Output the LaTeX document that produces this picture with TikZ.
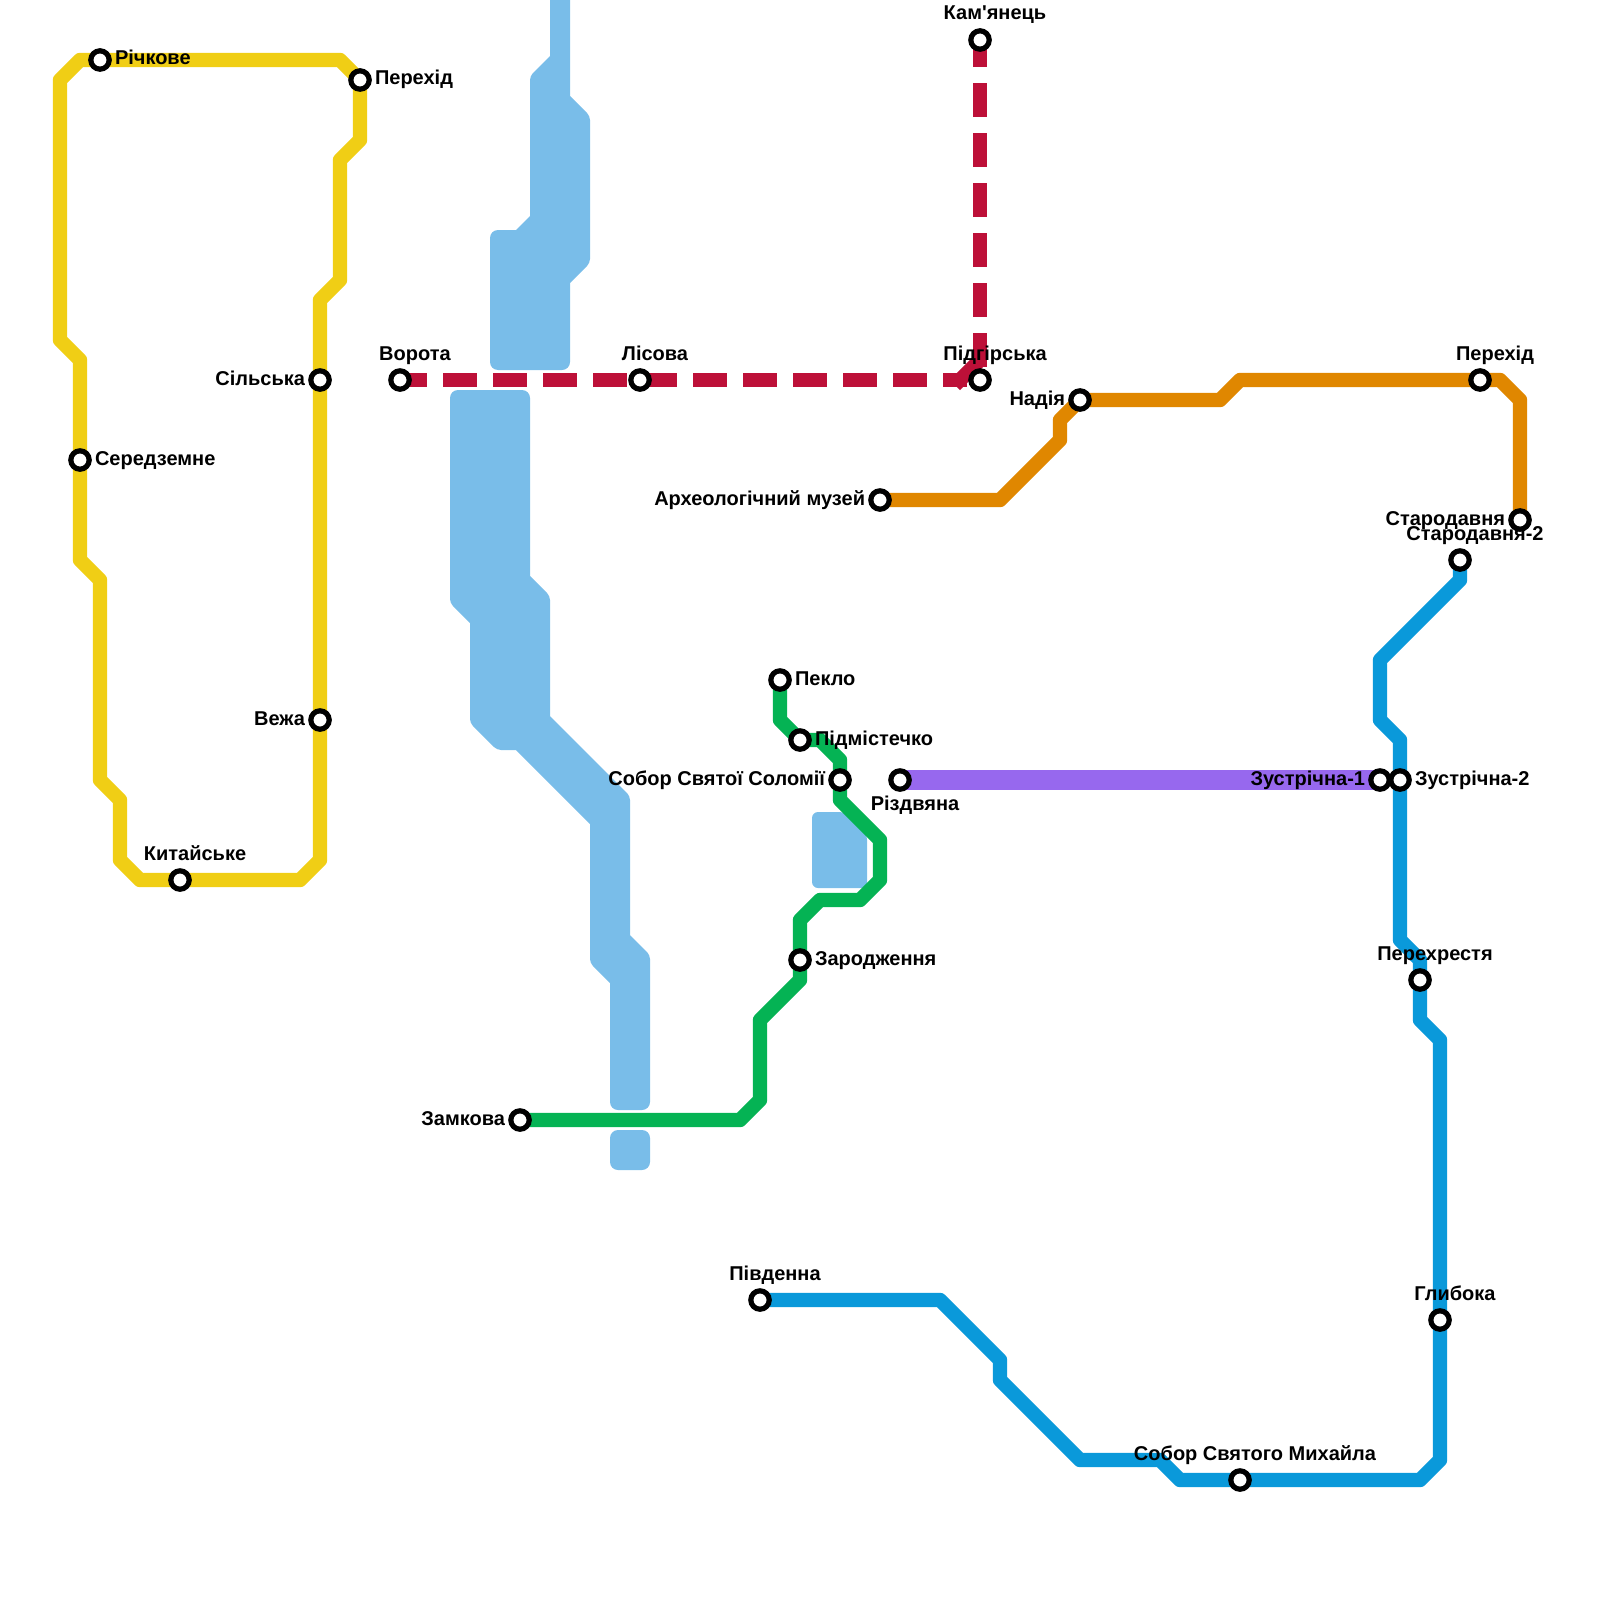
\documentclass[tikz,border=0pt]{standalone}
\usepackage{fontspec}
\newfontfamily\labfont{Liberation Sans}
\usetikzlibrary{positioning,backgrounds}
\definecolor{lineyellow}{HTML}{F0CE15}
\definecolor{linered}{HTML}{BD1038}
\definecolor{linegreen}{HTML}{05B354}
\definecolor{lineorange}{HTML}{E08700}
\definecolor{lineblue}{HTML}{0A99DA}
\definecolor{linepurple}{HTML}{9768EE}
\definecolor{rivercol}{HTML}{79BDE9}
\begin{document}
\begin{tikzpicture}[
  x=0.5pt,y=-0.5pt,
  st/.style={circle,draw=black,fill=white,line width=2.6pt,minimum size=9.2pt,inner sep=0pt,outer sep=0pt},
  lab/.style={font=\labfont\fontsize{10}{11}\selectfont\bfseries,inner sep=0pt,outer sep=0pt,text height=7pt,text depth=0pt},
  labr/.style={lab,right=2.9pt of #1,yshift=1pt},
  labl/.style={lab,left=2.9pt of #1,yshift=1pt},
  laba/.style={lab,above=5.4pt of #1,xshift=7.5pt},
  labb/.style={lab,below=3.4pt of #1,xshift=7.5pt},
  ln/.style={line width=7.2pt,line join=round},
  rd/.style={ln,linered,line cap=rect,dash pattern=on 10pt off 15pt},
  river/.style={fill=rivercol}]
\useasboundingbox (0,0) rectangle (1600,1600);
% yellow line
\node[st] (richkove) at (100,60) {};
\node[st] (perehidw) at (360,80) {};
\node[st] (silska) at (320,380) {};
\node[st] (seredz) at (80,460) {};
\node[st] (vezha) at (320,720) {};
\node[st] (kytay) at (180,880) {};
\node[labr=richkove] (richkovel) {Річкове};
\node[labr=perehidw] (perehidwl) {Перехід};
\node[labl=silska] (silskal) {Сільська};
\node[labr=seredz] (seredzl) {Середземне};
\node[labl=vezha] (vezhal) {Вежа};
\node[laba=kytay] (kytayl) {Китайське};
% red line
\node[st] (vorota) at (400,380) {};
\node[st] (lisova) at (640,380) {};
\node[st] (pidhir) at (980,380) {};
\node[st] (kamyan) at (980,40) {};
\coordinate (redw) at (960,380);
\coordinate (redn) at (980,360);
\node[laba=vorota] (vorotal) {Ворота};
\node[laba=lisova] (lisoval) {Лісова};
\node[laba=pidhir] (pidhirl) {Підгірська};
\node[laba=kamyan] (kamyanl) {Кам'янець};
% green line
\node[st] (peklo) at (780,680) {};
\node[st] (pidmis) at (800,740) {};
\node[st] (solomii) at (840,780) {};
\node[st] (zarodzh) at (800,960) {};
\node[st] (zamkova) at (520,1120) {};
\node[labr=peklo] (peklol) {Пекло};
\node[labr=pidmis] (pidmisl) {Підмістечко};
\node[labl=solomii] (solomiil) {Собор Святої Соломії};
\node[labr=zarodzh] (zarodzhl) {Зародження};
\node[labl=zamkova] (zamkoval) {Замкова};
% purple line
\node[st] (rizdv) at (900,780) {};
\node[st] (zustr1) at (1380,780) {};
\node[labb=rizdv] (rizdvl) {Різдвяна};
\node[labl=zustr1] (zustr1l) {Зустрічна-1};
% orange line
\node[st] (muzei) at (880,500) {};
\node[st] (nadia) at (1080,400) {};
\node[st] (perehide) at (1480,380) {};
\node[st] (starod) at (1520,520) {};
\node[labl=muzei] (muzeil) {Археологічний музей};
\node[labl=nadia] (nadial) {Надія};
\node[laba=perehide] (perehidel) {Перехід};
\node[labl=starod] (starodl) {Стародавня};
% blue line
\node[st] (starod2) at (1460,560) {};
\node[st] (zustr2) at (1400,780) {};
\node[st] (perehres) at (1420,980) {};
\node[st] (hlyboka) at (1440,1320) {};
\node[st] (myhaila) at (1240,1480) {};
\node[st] (pivden) at (760,1300) {};
\node[laba=starod2] (starod2l) {Стародавня-2};
\node[labr=zustr2] (zustr2l) {Зустрічна-2};
\node[laba=perehres] (perehresl) {Перехрестя};
\node[laba=hlyboka] (hlybokal) {Глибока};
\node[laba=myhaila] (myhailal) {Собор Святого Михайла};
\node[laba=pivden] (pivdenl) {Південна};
\begin{scope}[on background layer]
% river and pond
\fill[river] (550,0) -- (570,0) -- (570,96) [rounded corners=2pt] -- (590,116) -- (590,263) [sharp corners] -- (570,283) [rounded corners=4pt] -- (570,370) -- (490,370) -- (490,230) [sharp corners] -- (516,230) -- (530,216) [rounded corners=2pt] -- (530,76) [sharp corners] -- (550,56) -- cycle;
\fill[river] (450,390) [rounded corners=4pt] -- (530,390) [sharp corners] -- (530,576) [rounded corners=2pt] -- (550,596) [sharp corners] -- (550,716) [rounded corners=2pt] -- (630,796) [sharp corners] -- (630,935) [rounded corners=2pt] -- (650,955) [rounded corners=4pt] -- (650,1110) -- (610,1110) [sharp corners] -- (610,983) [rounded corners=2pt] -- (590,963) [sharp corners] -- (590,824) -- (516,750) [rounded corners=2pt] -- (497,750) -- (470,723) [sharp corners] -- (470,623) [rounded corners=2pt] -- (450,603) [rounded corners=4pt] -- cycle;
\fill[river,rounded corners=4pt] (610,1130) rectangle (650,1170);
\fill[river,rounded corners=3pt] (812,812) -- (845,812) -- (867,834) -- (867,888) -- (812,888) -- cycle;
\draw[ln,lineyellow] (perehidw.center) -- (340,60) -- (80,60) -- (60,80) -- (60,340) -- (80,360) -- (80,560) -- (100,580) -- (100,780) -- (120,800) -- (120,860) -- (140,880) -- (300,880) -- (320,860) -- (320,300) -- (340,280) -- (340,160) -- (360,140) -- (perehidw.center);
\draw[rd] (vorota.center) -- (redw);
\draw[rd] (redw) -- (redn);
\draw[rd] (kamyan.center) -- (redn);
\draw[ln,linegreen] (zamkova.center) -- (740,1120) -- (760,1100) -- (760,1020) -- (800,980) -- (800,920) -- (820,900) -- (860,900) -- (880,880) -- (880,840) -- (840,800) -- (840,760) -- (820,740) -- (800,740) -- (780,720) -- (peklo.center);
\draw[ln,linepurple,line width=10pt] (rizdv.center) -- (zustr1.center);
\draw[ln,lineorange] (muzei.center) -- (1000,500) -- (1060,440) -- (1060,420) -- (nadia.center) -- (1220,400) -- (1240,380) -- (1500,380) -- (1520,400) -- (starod.center);
\draw[ln,lineblue] (starod2.center) -- (1460,580) -- (1380,660) -- (1380,720) -- (1400,740) -- (1400,940) -- (1420,960) -- (1420,1020) -- (1440,1040) -- (1440,1460) -- (1420,1480) -- (1180,1480) -- (1160,1460) -- (1080,1460) -- (1000,1380) -- (1000,1360) -- (940,1300) -- (pivden.center);
\end{scope}
\end{tikzpicture}
\end{document}
